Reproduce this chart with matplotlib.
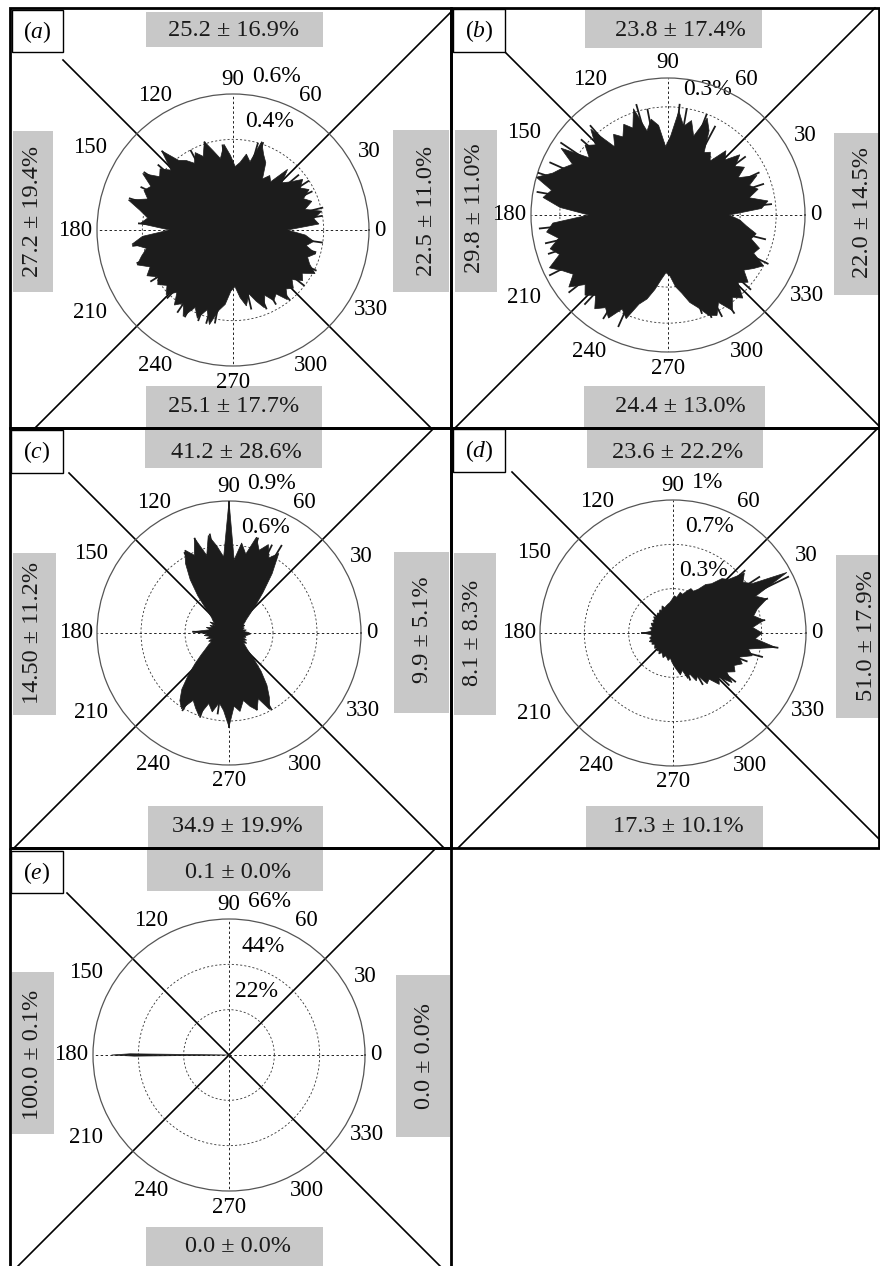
import numpy as np
import matplotlib
matplotlib.use('Agg')
import matplotlib.pyplot as plt
from matplotlib.patches import Rectangle

plt.rcParams['font.family'] = 'Liberation Serif'
plt.rcParams['mathtext.fontset'] = 'custom'
plt.rcParams['mathtext.rm'] = 'Liberation Serif'
plt.rcParams['mathtext.it'] = 'Liberation Serif:italic'

W, H = 880, 1266

# ---- rose data (percent of samples per direction) ----
theta_a = np.arange(0, 360, 4)
r_a = [0.24, 0.38, 0.36, 0.40, 0.33, 0.37, 0.34, 0.38, 0.35, 0.38,
       0.33, 0.30, 0.36, 0.27, 0.29, 0.26, 0.33, 0.36, 0.41, 0.31,
       0.34, 0.30, 0.28, 0.33, 0.38, 0.32, 0.36, 0.41, 0.35, 0.38,
       0.34, 0.37, 0.39, 0.47, 0.38, 0.42, 0.40, 0.47, 0.41, 0.43,
       0.40, 0.48, 0.42, 0.38, 0.41, 0.28, 0.40, 0.45, 0.39, 0.42,
       0.45, 0.40, 0.43, 0.39, 0.41, 0.38, 0.41, 0.37, 0.42, 0.39,
       0.44, 0.38, 0.42, 0.37, 0.43, 0.36, 0.33, 0.27, 0.25, 0.30,
       0.34, 0.29, 0.33, 0.37, 0.32, 0.36, 0.34, 0.39, 0.35, 0.37,
       0.34, 0.38, 0.36, 0.41, 0.37, 0.35, 0.38, 0.33, 0.36, 0.32]
# thin single-direction spikes (angle, length)
spk_a_th = [9, 14, 26, 33, 40, 71, 74, 97, 108, 118, 132, 139, 147, 155, 163,
            176, 189, 199, 212, 226, 236, 241, 249, 254, 259, 283, 293, 300,
            309, 322, 334, 345, 352]
spk_a_r = [0.40, 0.41, 0.39, 0.40, 0.38, 0.41, 0.40, 0.38, 0.41, 0.40, 0.47,
           0.44, 0.47, 0.45, 0.48, 0.42, 0.45, 0.45, 0.43, 0.42, 0.44, 0.44,
           0.43, 0.43, 0.42, 0.36, 0.38, 0.38, 0.40, 0.40, 0.41, 0.38, 0.40]

theta_b = np.arange(0, 360, 4)
r_b = [0.17, 0.26, 0.28, 0.23, 0.26, 0.24, 0.27, 0.22, 0.25, 0.23,
       0.26, 0.22, 0.24, 0.19, 0.21, 0.20, 0.26, 0.29, 0.23, 0.27,
       0.25, 0.29, 0.22, 0.19, 0.25, 0.27, 0.24, 0.31, 0.26, 0.28,
       0.25, 0.27, 0.24, 0.32, 0.28, 0.30, 0.27, 0.35, 0.30, 0.32,
       0.34, 0.38, 0.33, 0.35, 0.30, 0.22, 0.32, 0.34, 0.31, 0.34,
       0.32, 0.36, 0.33, 0.31, 0.34, 0.30, 0.32, 0.30, 0.33, 0.31,
       0.33, 0.29, 0.31, 0.26, 0.24, 0.21, 0.18, 0.16, 0.17, 0.20,
       0.22, 0.25, 0.27, 0.30, 0.31, 0.28, 0.32, 0.29, 0.31, 0.27,
       0.29, 0.26, 0.28, 0.30, 0.26, 0.27, 0.24, 0.25, 0.22, 0.20]
spk_b_th = [6, 18, 25, 37, 62, 69, 80, 84, 101, 106, 131, 139, 146, 156, 162,
            170, 186, 193, 198, 207, 218, 227, 238, 246, 289, 293, 298, 304,
            318, 334, 346]
spk_b_r = [0.29, 0.28, 0.28, 0.27, 0.28, 0.30, 0.30, 0.31, 0.30, 0.32, 0.33,
           0.32, 0.36, 0.36, 0.38, 0.37, 0.36, 0.35, 0.35, 0.37, 0.35, 0.34,
           0.34, 0.34, 0.29, 0.31, 0.32, 0.33, 0.31, 0.31, 0.28]

theta_c = np.arange(2, 360, 4)
r_c = [0.13, 0.10, 0.12, 0.09, 0.11, 0.10, 0.12, 0.11, 0.13, 0.15,
       0.19, 0.26, 0.36, 0.50, 0.64, 0.58, 0.66, 0.60, 0.68, 0.55,
       0.62, 0.50, 0.90, 0.52, 0.60, 0.68, 0.55, 0.69, 0.58, 0.64,
       0.56, 0.45, 0.33, 0.22, 0.16, 0.14, 0.12, 0.15, 0.11, 0.14,
       0.12, 0.16, 0.13, 0.17, 0.25, 0.15, 0.17, 0.13, 0.16, 0.12,
       0.15, 0.13, 0.16, 0.19, 0.24, 0.31, 0.40, 0.50, 0.57, 0.61,
       0.52, 0.56, 0.60, 0.50, 0.55, 0.48, 0.53, 0.64, 0.50, 0.54,
       0.47, 0.52, 0.56, 0.49, 0.59, 0.52, 0.44, 0.34, 0.24, 0.17,
       0.14, 0.12, 0.14, 0.11, 0.13, 0.10, 0.12, 0.11, 0.13, 0.15]
spk_c_th = [59, 64, 73, 90, 101, 110, 119, 178, 239, 251, 262, 270, 290, 299]
spk_c_r = [0.70, 0.67, 0.68, 0.90, 0.69, 0.69, 0.63, 0.25, 0.62, 0.61, 0.56,
           0.65, 0.56, 0.60]

theta_d = np.arange(0, 360, 4)
r_d = [0.67, 0.60, 0.69, 0.62, 0.66, 0.75, 0.68, 0.97, 0.70, 0.65,
       0.70, 0.58, 0.55, 0.47, 0.44, 0.38, 0.35, 0.36, 0.33, 0.30,
       0.31, 0.27, 0.28, 0.25, 0.23, 0.22, 0.21, 0.20, 0.22, 0.19,
       0.20, 0.18, 0.19, 0.18, 0.17, 0.19, 0.17, 0.18, 0.16, 0.18,
       0.17, 0.16, 0.18, 0.16, 0.17, 0.23, 0.17, 0.16, 0.18, 0.17,
       0.19, 0.17, 0.18, 0.16, 0.17, 0.18, 0.16, 0.18, 0.17, 0.19,
       0.17, 0.18, 0.20, 0.18, 0.19, 0.21, 0.19, 0.22, 0.25, 0.28,
       0.32, 0.29, 0.36, 0.33, 0.40, 0.37, 0.46, 0.44, 0.52, 0.48,
       0.58, 0.50, 0.55, 0.52, 0.57, 0.53, 0.62, 0.58, 0.78, 0.62]
spk_d_th = [8, 20, 26, 33, 41, 352, 345, 339, 322, 317, 180, 300, 290]
spk_d_r = [0.70, 0.76, 0.97, 0.78, 0.72, 0.80, 0.70, 0.60, 0.60, 0.58, 0.24,
           0.45, 0.38]

theta_e = [0, 179.3, 180, 180.7]
r_e = [0, 48, 57, 46]
spk_e_th = []
spk_e_r = []

# ring values / labels and outer radius of each rose ('' = label hidden by the rose)
rmax = {'a': 0.6, 'b': 0.38, 'c': 0.9, 'd': 1.0, 'e': 66}
rings = {'a': [0.2, 0.4, 0.6], 'b': [0.1, 0.2, 0.3], 'c': [0.3, 0.6, 0.9],
         'd': [1/3, 2/3, 1.0], 'e': [22, 44, 66]}
ring_labels = {'a': ['', '0.4%', '0.6%'], 'b': ['', '', '0.3%'],
               'c': ['', '0.6%', '0.9%'], 'd': ['0.3%', '0.7%', '1%'],
               'e': ['22%', '44%', '66%']}

# side statistics: top, bottom, left, right
stats = {'a': ['25.2 ± 16.9%', '25.1 ± 17.7%', '27.2 ± 19.4%', '22.5 ± 11.0%'],
         'b': ['23.8 ± 17.4%', '24.4 ± 13.0%', '29.8 ± 11.0%', '22.0 ± 14.5%'],
         'c': ['41.2 ± 28.6%', '34.9 ± 19.9%', '14.50 ± 11.2%', '9.9 ± 5.1%'],
         'd': ['23.6 ± 22.2%', '17.3 ± 10.1%', '8.1 ± 8.3%', '51.0 ± 17.9%'],
         'e': ['0.1 ± 0.0%', '0.0 ± 0.0%', '100.0 ± 0.1%', '0.0 ± 0.0%']}

angle_ticks = list(range(0, 360, 30))

# ---- layout (pixels, y down) ----
layout = {
    'a': dict(frame=(10, 8, 451, 428), c=(233, 230), R=136, lab=(12, 10, 63, 52),
              boxes=[(146, 12, 323, 47), (146, 386, 322, 428), (13, 131, 53, 292), (393, 130, 449, 292)],
              txt=[(234, 30), (234, 407), (33, 211), (427, 211)]),
    'b': dict(frame=(451, 8, 879, 428), c=(668, 215), R=137, lab=(453, 9, 505, 52),
              boxes=[(585, 10, 762, 48), (584, 386, 765, 428), (455, 130, 497, 292), (834, 133, 880, 295)],
              txt=[(680, 31), (680, 406), (475, 208), (863, 213)]),
    'c': dict(frame=(10, 428, 451, 848), c=(229, 633), R=132, lab=(11, 430, 63, 473),
              boxes=[(145, 428, 322, 468), (148, 806, 323, 848), (13, 553, 56, 715), (394, 552, 449, 713)],
              txt=[(236, 452), (237, 827), (33, 633), (423, 630)]),
    'd': dict(frame=(451, 428, 879, 848), c=(673, 633), R=133, lab=(453, 429, 505, 472),
              boxes=[(587, 430, 763, 468), (586, 806, 763, 848), (454, 553, 496, 715), (836, 555, 880, 718)],
              txt=[(678, 452), (678, 826), (472, 633), (867, 636)]),
    'e': dict(frame=(10, 848, 451, 1275), c=(229, 1055), R=136, lab=(11, 851, 63, 893),
              boxes=[(147, 848, 323, 891), (146, 1227, 323, 1266), (12, 972, 54, 1134), (396, 975, 450, 1137)],
              txt=[(238, 872), (238, 1246), (33, 1055), (425, 1056)]),
}
label_r = {0: 1.08, 30: 1.16, 60: 1.14, 90: 1.11, 120: 1.14, 150: 1.21,
           180: 1.16, 210: 1.21, 240: 1.15, 270: 1.12, 300: 1.15, 330: 1.17}

data = {'a': (theta_a, r_a, spk_a_th, spk_a_r), 'b': (theta_b, r_b, spk_b_th, spk_b_r),
        'c': (theta_c, r_c, spk_c_th, spk_c_r), 'd': (theta_d, r_d, spk_d_th, spk_d_r),
        'e': (theta_e, r_e, spk_e_th, spk_e_r)}

fig = plt.figure(figsize=(W / 100, H / 100), dpi=100)
ov = fig.add_axes([0, 0, 1, 1])
ov.set_xlim(0, W)
ov.set_ylim(H, 0)
ov.axis('off')


def rect(b, **kw):
    ov.add_patch(Rectangle((b[0], b[1]), b[2] - b[0], b[3] - b[1], **kw))


for tag in ['a', 'b', 'c', 'd', 'e']:
    p = layout[tag]
    x0, y0, x1, y1 = p['frame']
    cx, cy = p['c']
    R = p['R']

    # grey boxes with the side numbers
    for b, (tx, ty), s, rot in zip(p['boxes'], p['txt'], stats[tag], [0, 0, 90, 90]):
        rect(b, fc='#c8c8c8', ec='none', zorder=1)
        ov.text(tx, ty, s, rotation=rot, ha='center', va='center',
                fontsize=17.5, color='#1a1a1a', zorder=6)

    # diagonals through the rose centre
    t0, t1 = max(x0 - cx, cy - y1), min(x1 - cx, cy - y0)
    ov.plot([cx + t0, cx + t1], [cy - t0, cy - t1], color='k', lw=1.2, zorder=2)
    lx, ly = p['lab'][2], p['lab'][3]
    t0, t1 = max(lx - cx, ly - cy), min(x1 - cx, y1 - cy)
    ov.plot([cx + t0, cx + t1], [cy + t0, cy + t1], color='k', lw=1.2, zorder=2)

    rect(p['frame'], fc='none', ec='k', lw=2.0, zorder=5)
    rect(p['lab'], fc='white', ec='k', lw=1.0, zorder=5)
    lb = p['lab']
    ov.text((lb[0] + lb[2]) / 2, (lb[1] + lb[3]) / 2 + 1, r'($\mathit{%s}$)' % tag,
            ha='center', va='center', fontsize=17, zorder=6)

    # polar rose
    ax = fig.add_axes([(cx - R) / W, 1 - (cy + R) / H, 2 * R / W, 2 * R / H],
                      projection='polar')
    ax.set_facecolor('none')
    th, rr, sth, sr = data[tag]
    ax.fill(np.deg2rad(th), rr, color='#1c1c1c', lw=0.5, zorder=3)
    if sth:
        ax.vlines(np.deg2rad(sth), 0, sr, color='#1c1c1c', lw=1.3, zorder=3)
    rm = rmax[tag]
    ax.set_xticks([])
    ax.set_yticks([v for v in rings[tag] if v < rm * 0.999])
    ax.set_yticklabels([])
    ax.set_ylim(0, rm)
    ax.yaxis.grid(True, linestyle=(0, (2.5, 2.5)), color='#333333', lw=0.6)
    for a in (0, 90, 180, 270):
        ax.plot([np.deg2rad(a)] * 2, [0, rm], linestyle=(0, (2.5, 2.5)),
                color='#222222', lw=0.7, zorder=1)
    ax.spines['polar'].set_color('#555555')
    ax.spines['polar'].set_linewidth(0.9)
    for a in angle_ticks:
        ax.text(np.deg2rad(a), label_r[a] * rm, str(a), ha='center', va='center',
                fontsize=16.5, clip_on=False)
    for v, s in zip(rings[tag], ring_labels[tag]):
        if s:
            ax.annotate(s, xy=(np.deg2rad(82), v), xytext=(0, 8),
                        textcoords='offset pixels', ha='left', va='bottom',
                        fontsize=17, zorder=1, annotation_clip=False)

fig.savefig('out.png', dpi=100)
